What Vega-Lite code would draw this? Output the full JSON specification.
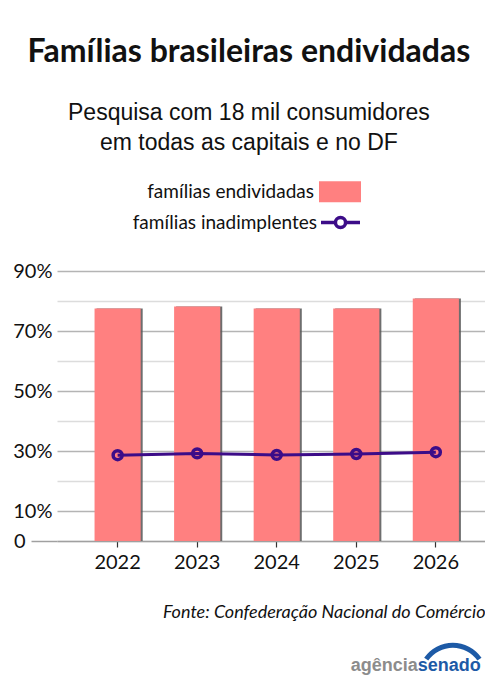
{
  "$schema": "https://vega.github.io/schema/vega-lite/v6.json",
  "width": 428,
  "height": 270,
  "autosize": {"type": "pad"},
  "padding": {"left": 12, "top": 36, "right": 0, "bottom": 0},
  "background": "white",
  "config": {"view": {"stroke": null}, "font": "Lato"},
  "title": {
    "text": "Famílias brasileiras endividadas",
    "subtitle": ["Pesquisa com 18 mil consumidores", "em todas as capitais e no DF"],
    "anchor": "middle",
    "frame": "bounds",
    "font": "Lato",
    "fontSize": 32,
    "fontWeight": "bold",
    "color": "#111111",
    "subtitleFont": "Liberation Sans",
    "subtitleFontSize": 23,
    "subtitleColor": "#111111",
    "subtitleLineHeight": 30,
    "subtitlePadding": 33,
    "offset": 14.5
  },
  "data": {
    "values": [
      {"ano": "2022", "endividadas": 77.5, "inadimplentes": 28.6},
      {"ano": "2023", "endividadas": 78.2, "inadimplentes": 29.2},
      {"ano": "2024", "endividadas": 77.5, "inadimplentes": 28.7},
      {"ano": "2025", "endividadas": 77.5, "inadimplentes": 29.0},
      {"ano": "2026", "endividadas": 80.8, "inadimplentes": 29.6}
    ]
  },
  "layer": [
    {
      "mark": {"type": "bar", "color": "#555555", "opacity": 0.85},
      "encoding": {
        "x": {
          "field": "ano", "type": "ordinal",
          "title": "Fonte: Confederação Nacional do Comércio",
          "scale": {"paddingInner": 0.42, "paddingOuter": 0.4, "align": 0.59},
          "axis": {
            "labelAngle": 0, "labelFont": "Lato", "labelFontSize": 20, "labelColor": "#111111", "labelPadding": 5,
            "tickSize": 6, "tickColor": "#333333", "tickWidth": 1.2,
            "domainColor": "#a0a0a0", "domainWidth": 1.5,
            "titleFont": "Lato", "titleFontStyle": "italic", "titleFontWeight": "normal",
            "titleFontSize": 18, "titleColor": "#111111", "titleAnchor": "end", "titlePadding": 31
          }
        },
        "xOffset": {"value": 2},
        "y": {
          "field": "endividadas", "type": "quantitative", "title": null,
          "scale": {"domain": [0, 90], "nice": false},
          "axis": {
            "values": [0, 10, 20, 30, 40, 50, 60, 70, 80, 90],
            "tickCount": 12,
            "labelExpr": "datum.value == 0 ? '0' : (datum.value == 10 || datum.value == 30 || datum.value == 50 || datum.value == 70 || datum.value == 90 ? datum.value + '%' : '')",
            "labelFont": "Lato", "labelFontSize": 20, "labelColor": "#111111",
            "labelOverlap": false,
            "domain": false,
            "tickSize": 26,
            "tickColor": {"condition": {"test": "datum.value == 0", "value": "#a0a0a0"}, "value": "transparent"},
            "tickWidth": 1.5,
            "labelPadding": {"condition": {"test": "datum.value == 0", "value": 6}, "value": -21},
            "gridColor": {"condition": {"test": "datum.value == 10 || datum.value == 30 || datum.value == 50 || datum.value == 70 || datum.value == 90", "value": "#b4b4b4"}, "value": "#dcdcdc"},
            "gridWidth": 1.3
          }
        }
      }
    },
    {
      "mark": {"type": "bar"},
      "encoding": {
        "x": {"field": "ano", "type": "ordinal", "title": "Fonte: Confederação Nacional do Comércio"},
        "y": {"field": "endividadas", "type": "quantitative", "title": null},
        "fill": {
          "datum": "famílias endividadas", "type": "nominal",
          "scale": {"range": ["#ff8080"]},
          "legend": {
            "orient": "none", "legendX": 262, "legendY": -100.2, "title": null,
            "symbolType": "M-1,-0.5H1V0.5H-1Z", "symbolSize": 1764, "symbolStrokeWidth": 0, "symbolOpacity": 1,
            "labelAlign": "right", "labelOffset": -47, "labelFont": "Lato", "labelFontSize": 19, "labelColor": "#111111", "labelLimit": 300
          }
        }
      }
    },
    {
      "mark": {"type": "line", "strokeWidth": 3},
      "encoding": {
        "x": {"field": "ano", "type": "ordinal", "title": "Fonte: Confederação Nacional do Comércio"},
        "y": {"field": "inadimplentes", "type": "quantitative", "title": null},
        "stroke": {
          "datum": "famílias inadimplentes", "type": "nominal",
          "scale": {"range": ["#3c0c88"]},
          "legend": {
            "orient": "none", "legendX": 262, "legendY": -70, "title": null,
            "symbolType": "M-1,0H-0.26M0.26,0H1M-0.26,0A0.26,0.26 0 1,0 0.26,0A0.26,0.26 0 1,0 -0.26,0",
            "symbolSize": 1521, "symbolStrokeWidth": 3.5, "symbolFillColor": "transparent",
            "labelAlign": "right", "labelOffset": -45, "labelFont": "Lato", "labelFontSize": 19, "labelColor": "#111111", "labelLimit": 300
          }
        }
      }
    },
    {
      "mark": {"type": "point", "filled": false, "size": 80, "strokeWidth": 3.5, "opacity": 1},
      "encoding": {
        "x": {"field": "ano", "type": "ordinal", "title": "Fonte: Confederação Nacional do Comércio"},
        "y": {"field": "inadimplentes", "type": "quantitative", "title": null},
        "stroke": {"datum": "famílias inadimplentes", "type": "nominal"}
      }
    },
    {
      "data": {"values": [{"t": "agência"}]},
      "mark": {"type": "text", "align": "right", "baseline": "alphabetic", "dx": -18, "font": "Liberation Sans", "fontWeight": "bold", "fontSize": 18, "color": "#8c8c8c"},
      "encoding": {
        "x": {"datum": "2026", "type": "ordinal", "title": "Fonte: Confederação Nacional do Comércio"},
        "y": {"datum": -43.4, "type": "quantitative", "title": null},
        "text": {"field": "t"}
      }
    },
    {
      "data": {"values": [{"t": "senado"}]},
      "mark": {"type": "text", "align": "left", "baseline": "alphabetic", "dx": -18, "font": "Liberation Sans", "fontWeight": "bold", "fontSize": 18, "color": "#1d5aa6"},
      "encoding": {
        "x": {"datum": "2026", "type": "ordinal", "title": "Fonte: Confederação Nacional do Comércio"},
        "y": {"datum": -43.4, "type": "quantitative", "title": null},
        "text": {"field": "t"}
      }
    },
    {
      "data": {"values": [{"t": "arco"}]},
      "mark": {"type": "arc", "theta": -0.96, "theta2": 0.96, "radius": 35, "radius2": 30, "xOffset": 17, "color": "#1d5aa6"},
      "encoding": {
        "x": {"datum": "2026", "type": "ordinal", "title": "Fonte: Confederação Nacional do Comércio"},
        "y": {"datum": -45.6, "type": "quantitative", "title": null}
      }
    }
  ]
}
